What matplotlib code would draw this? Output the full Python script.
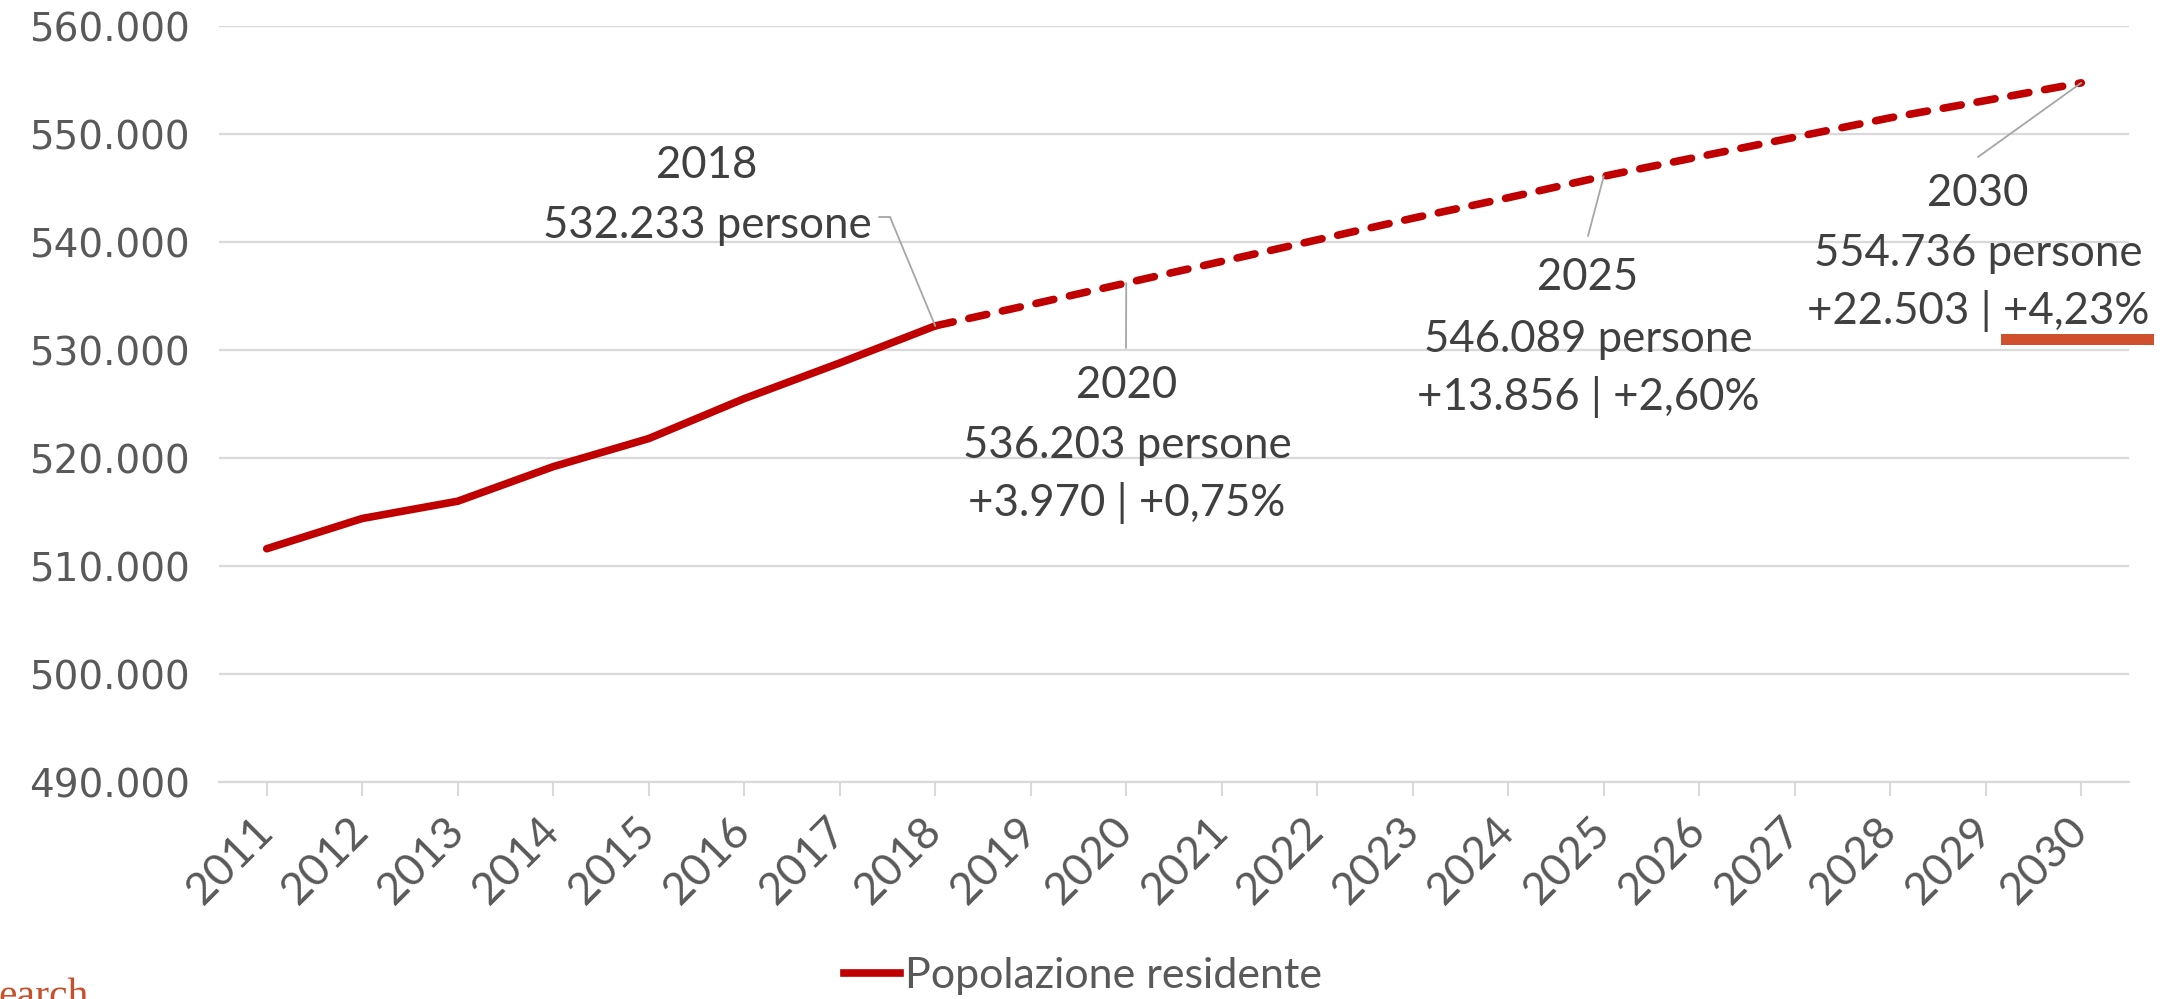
import matplotlib
matplotlib.use("Agg")
import matplotlib.pyplot as plt
from matplotlib.lines import Line2D
from matplotlib.patches import Rectangle

years = [str(y) for y in range(2011, 2031)]
storico = [511600, 514400, 516000, 519200, 521800, 525500, 528800, 532233]
previsione = [532233, 534200, 536203, 538200, 540200, 542200, 544100,
              546089, 547900, 549700, 551500, 553100, 554736]
yticks = [490000, 500000, 510000, 520000, 530000, 540000, 550000, 560000]

etichette = {
    "2018": ["2018", "532.233 persone"],
    "2020": ["2020", "536.203 persone", "+3.970 | +0,75%"],
    "2025": ["2025", "546.089 persone", "+13.856 | +2,60%"],
    "2030": ["2030", "554.736 persone", "+22.503 | +4,23%"],
}

W, H = 2178, 999
fig = plt.figure(figsize=(W / 100, H / 100), dpi=100)
ax = fig.add_axes([219 / W, 1 - 782 / H, (2129 - 219) / W, (782 - 26) / H])


def fp(x, y):
    # pixel position of the reference -> figure fraction
    return x / W, 1 - y / H


red = "#C00000"
grey_txt = "#595959"
dark_txt = "#404040"
grid_c = "#D9D9D9"

xs_hist = list(range(len(storico)))
xs_prev = list(range(len(storico) - 1, len(years)))
ax.plot(xs_hist, storico, color=red, lw=5.5, solid_capstyle="round", solid_joinstyle="round")
ax.plot(xs_prev, previsione, color=red, lw=5.5, dashes=(2.4, 2.1), dash_capstyle="round")

ax.set_xlim(-0.5, len(years) - 0.5)
ax.set_ylim(490000, 560000)
ax.set_yticks(yticks)
ax.set_yticklabels([f"{v:,.0f}".replace(",", ".") for v in yticks],
                   fontsize=28, color=grey_txt, family="DejaVu Sans")
ax.set_xticks(range(len(years)))
ax.set_xticklabels(years, rotation=45, rotation_mode="anchor", ha="right", va="center",
                   fontsize=32, color=grey_txt, family="Lato")
ax.tick_params(axis="y", length=0, pad=21)
ax.tick_params(axis="x", length=10, width=1.5, color=grid_c, pad=20)
ax.grid(axis="y", color=grid_c, lw=1.6)
ax.set_axisbelow(True)
for s in ["top", "right", "left"]:
    ax.spines[s].set_visible(False)
ax.spines["bottom"].set_color(grid_c)
ax.spines["bottom"].set_linewidth(1.6)

# data labels (positions in reference pixels)
pos = {
    "2018": (707, [161, 222]),
    "2020": (1127, [382, 442, 499]),
    "2025": (1588, [274, 335, 393]),
    "2030": (1978, [190, 250, 307]),
}
for k, righe in etichette.items():
    x, ys = pos[k]
    for riga, y in zip(righe, ys):
        fig.text(*fp(x, y), riga, ha="center", va="center_baseline",
                 fontsize=31.5, color=dark_txt, family="Lato")

lead = dict(arrowstyle="-", color="#A6A6A6", lw=1.3, shrinkA=0, shrinkB=0)
leaders = {"2018": (890, 217), "2020": (1126, 348), "2025": (1588, 236), "2030": (1978, 157)}
for k, (x, y) in leaders.items():
    i = years.index(k)
    v = previsione[i - len(storico) + 1]
    ax.annotate("", xy=(i, v), xytext=fp(x, y), textcoords="figure fraction", arrowprops=lead)
ax.annotate("", xy=fp(879, 217), xycoords="figure fraction",
            xytext=fp(890, 217), textcoords="figure fraction", arrowprops=lead)

# orange underline below the 2030 label
fig.patches.append(Rectangle(fp(2001, 345), 153 / W, 11 / H, transform=fig.transFigure,
                             color="#D0502D", lw=0))

handle = Line2D([], [], color=red, lw=5.5)
fig.legend([handle], ["Popolazione residente"], loc="center", bbox_to_anchor=fp(1083, 976),
           frameon=False, handlelength=1.3, handletextpad=0.1,
           prop={"family": "Lato", "size": 31}, labelcolor=grey_txt)

fig.text(*fp(-2, 1007), "earch", ha="left", va="baseline", fontsize=30,
         color="#C8502D", family="Liberation Serif")

fig.savefig("out.png", dpi=100)
